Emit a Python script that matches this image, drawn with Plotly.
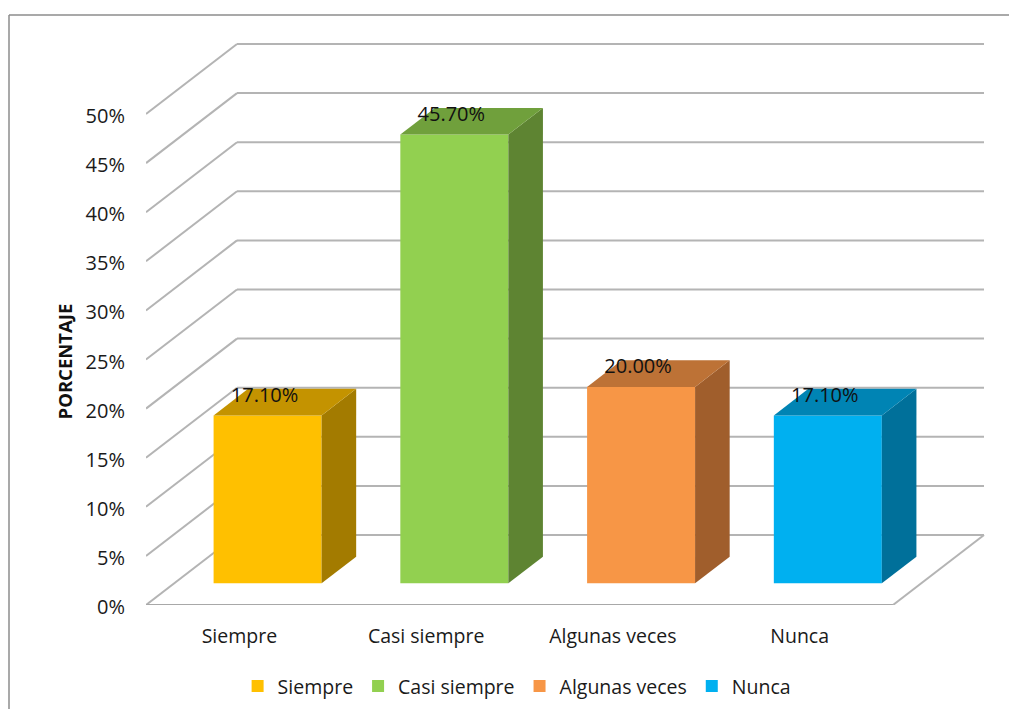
import plotly.graph_objects as go

categories = ["Siempre", "Casi siempre", "Algunas veces", "Nunca"]
values = [17.1, 45.7, 20.0, 17.1]
labels = ["17.10%", "45.70%", "20.00%", "17.10%"]
front_colors = ["#FFC000", "#92D050", "#F79646", "#00B0F0"]
side_colors = ["#A37B00", "#5E8432", "#A05E2C", "#00709A"]
top_colors = ["#C49300", "#70A03C", "#BD7236", "#0084B4"]
y_ticks = [0, 5, 10, 15, 20, 25, 30, 35, 40, 45, 50]
y_tick_labels = ["0%", "5%", "10%", "15%", "20%", "25%", "30%", "35%", "40%", "45%", "50%"]

W, H = 1009, 709
L, R, T, B = 146, 19, 30, 104
PX_X = 186.75   # px per category
PX_Y = 9.82     # px per percent
XMAX = (W - L - R) / PX_X
YMAX = (H - T - B) / PX_Y
DX, DY = 91 / PX_X, 70 / PX_Y   # full depth of the floor in data units
FLOOR = 0.31                    # bar front plane as depth fraction
DEPTH = 0.38                    # bar depth as depth fraction
BAR_W = 108 / PX_X
FONT = "Open Sans"
GRID = "#B4B4B4"

fig = go.Figure()

# front faces
for i, c in enumerate(categories):
    fig.add_trace(go.Bar(
        x=[i + 0.5 + FLOOR * DX], y=[values[i]], base=[FLOOR * DY], width=[BAR_W],
        name=c, marker=dict(color=front_colors[i], line=dict(width=0)), hoverinfo="skip",
    ))

# side and top faces
for i, c in enumerate(categories):
    xl = i + 0.5 + FLOOR * DX - BAR_W / 2
    xr = xl + BAR_W
    y0 = FLOOR * DY
    y1 = y0 + values[i]
    ox, oy = DEPTH * DX, DEPTH * DY
    fig.add_trace(go.Scatter(
        x=[xr, xr + ox, xr + ox, xr, xr], y=[y0, y0 + oy, y1 + oy, y1, y0],
        mode="lines", fill="toself", fillcolor=side_colors[i], line=dict(width=0),
        showlegend=False, hoverinfo="skip",
    ))
    fig.add_trace(go.Scatter(
        x=[xl, xr, xr + ox, xl + ox, xl], y=[y1, y1, y1 + oy, y1 + oy, y1],
        mode="lines", fill="toself", fillcolor=top_colors[i], line=dict(width=0),
        showlegend=False, hoverinfo="skip",
    ))

# data labels
fig.add_trace(go.Scatter(
    x=[i + 0.5 + FLOOR * DX - 3 / PX_X for i in range(len(categories))],
    y=[FLOOR * DY + v + 1.9 for v in values],
    text=labels, mode="text", textposition="middle center",
    textfont=dict(family=FONT, size=20, color="#111111"),
    showlegend=False, hoverinfo="skip",
))

# walls and floor
shapes = []
def seg(x0, y0, x1, y1, color=GRID, width=2):
    shapes.append(dict(type="line", xref="x", yref="y", x0=x0, y0=y0, x1=x1, y1=y1,
                       layer="below", line=dict(color=color, width=width)))

n = len(categories)
for t in y_ticks:
    seg(0, t, DX, t + DY)
    seg(DX, t + DY, n + DX, t + DY)
seg(0, 0, n, 0, "#A8A8A8")
seg(n, 0, n + DX, DY)

# outer frame
fx = (9 - L) / (W - L - R)
fy = 1 + (T - 15) / (H - T - B)
for x0, y0, x1, y1 in [(fx, fy, 1 + R / (W - L - R), fy), (fx, fy, fx, -B / (H - T - B))]:
    shapes.append(dict(type="line", xref="paper", yref="paper", x0=x0, y0=y0, x1=x1, y1=y1,
                       layer="below", line=dict(color="#8C8C8C", width=1.5)))

fig.update_layout(
    width=W, height=H,
    margin=dict(l=L, r=R, t=T, b=B, pad=0),
    paper_bgcolor="white", plot_bgcolor="white",
    barmode="overlay", shapes=shapes,
    font=dict(family=FONT, size=19, color="#1A1A1A"),
    xaxis=dict(range=[0, XMAX], tickmode="array", tickvals=[i + 0.5 for i in range(n)],
               ticktext=categories, showgrid=False, zeroline=False, showline=False,
               ticks="", ticklabelstandoff=17, tickfont=dict(size=19.5)),
    yaxis=dict(range=[0, YMAX], tickmode="array", tickvals=y_ticks, ticktext=y_tick_labels,
               showgrid=False, zeroline=False, showline=False, ticks="",
               ticklabelstandoff=20, ticklabelshift=2, tickfont=dict(size=20)),
    legend=dict(orientation="h", x=0.512, xref="container", xanchor="center",
                y=0.032, yref="container", yanchor="middle",
                font=dict(size=19.5), bgcolor="rgba(0,0,0,0)", traceorder="normal"),
    annotations=[dict(text="<b>PORCENTAJE</b>", xref="paper", yref="y",
                      x=(64 - L) / (W - L - R), y=24.8, textangle=-90, showarrow=False,
                      xanchor="center", yanchor="middle",
                      font=dict(family=FONT, size=18.5, color="#111111"))],
)

fig.write_html("out.html", config=dict(displayModeBar=False),
               post_script="document.body.style.margin='0';")
